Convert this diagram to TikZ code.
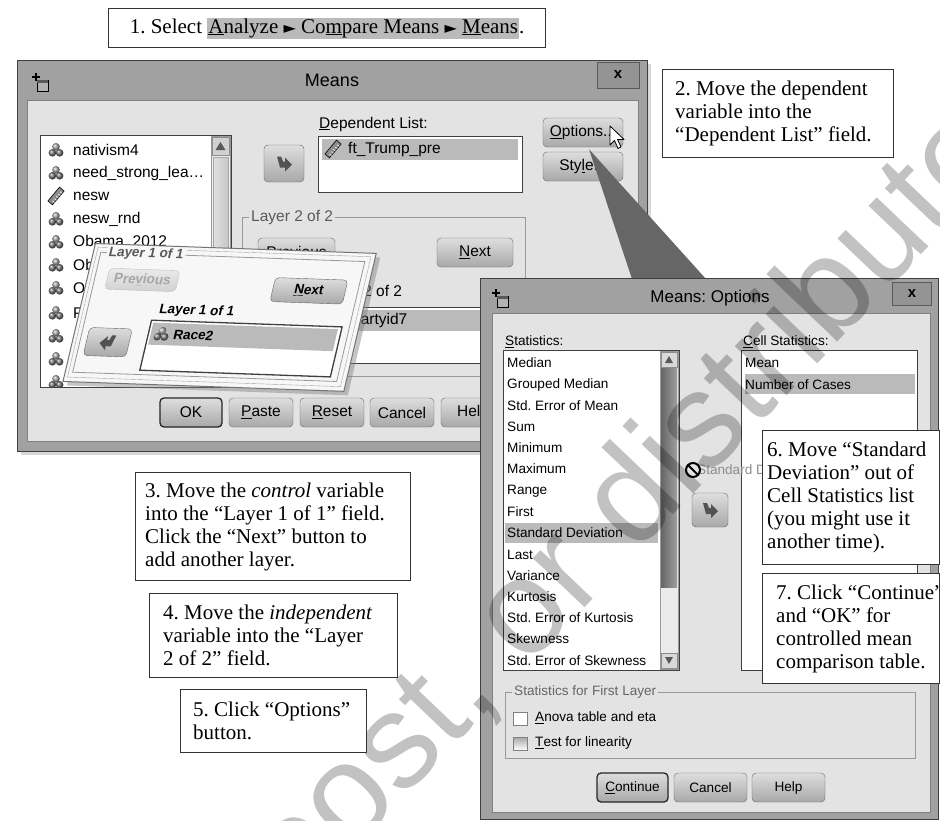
\documentclass[tikz,border=0pt]{standalone}
\usepackage{fontspec}
\setmainfont{Liberation Serif}
\newfontfamily\uifont{Liberation Sans}
\newfontfamily\symfont{DejaVu Sans}
\usetikzlibrary{shapes,arrows,shadows}
\setlength{\fboxsep}{1pt}

\definecolor{framegray}{gray}{0.63}
\definecolor{panelgray}{gray}{0.89}
\definecolor{hlgray}{gray}{0.73}
\definecolor{btnlight}{gray}{0.87}
\definecolor{btndark}{gray}{0.66}
\definecolor{wedgegray}{gray}{0.40}
\definecolor{zoomwhite}{gray}{0.97}

\tikzstyle{notebox} = [rectangle, draw=black!80, line width=1.2pt, fill=white,
    anchor=north west, inner sep=0pt]
\tikzstyle{notetext} = [align=left, inner sep=0pt, font=\fontsize{21}{23}\selectfont]
\tikzstyle{dialog} = [rectangle, draw=black!75, line width=1pt, fill=framegray,
    anchor=north west, inner sep=0pt]
\tikzstyle{listbox} = [rectangle, draw=black!75, line width=1pt, fill=white,
    anchor=north west, inner sep=0pt]
\tikzstyle{btn} = [rectangle, rounded corners=4pt, draw=black!60, top color=btnlight,
    bottom color=btndark, inner sep=0pt, minimum height=29pt]
\tikzstyle{bigui} = [font=\uifont\fontsize{15.5}{15.5}\selectfont]
\tikzstyle{smallui} = [font=\uifont\fontsize{13.6}{13.6}\selectfont]
\tikzstyle{zoomui} = [font=\uifont\bfseries\fontsize{13.5}{13.5}\selectfont]
\tikzstyle{lbl} = [inner sep=0pt, anchor=west]
\tikzstyle{grpline} = [draw=black!40, line width=0.8pt]
\tikzstyle{closebtn} = [rectangle, draw=black!65, fill=black!42, inner sep=0pt,
    font=\uifont\bfseries\fontsize{15}{15}\selectfont]

\newcommand{\tri}{{\symfont\fontsize{16}{16}\selectfont ►}}
\newcommand{\nomicon}[1]{%
  \begin{scope}[shift={#1}]
    \shade[ball color=black!55] (-3.6,2.8) circle (3.8);
    \shade[ball color=black!55] (3.6,2.8) circle (3.8);
    \shade[ball color=black!35] (0,-3.2) circle (3.8);
  \end{scope}}
\newcommand{\scaleicon}[1]{%
  \begin{scope}[shift={#1}, rotate=50]
    \draw[fill=black!45, line width=0.6pt] (-9,-3) rectangle (9,3);
    \foreach \t in {-6,-3,0,3,6} \draw[white, line width=0.6pt] (\t,3) -- (\t,0.5);
  \end{scope}}
\newcommand{\winicon}[1]{%
  \begin{scope}[shift={#1}]
    \draw[fill=black!30] (-3,-2) rectangle (8,9);
    \fill[black!65] (-3,-2) rectangle (8,1);
    \draw[line width=1.3pt] (-8,-5) -- (0,-5) (-4,-9) -- (-4,-1);
  \end{scope}}
\newcommand{\fwdarrow}[1]{%
  \begin{scope}[shift={#1}]
    \fill[black!68] (-7,-7) -- (-3,-7) -- (-1,-2) -- (1,-2) -- (1,-6) -- (8,1) -- (1,8)
      -- (1,4) -- (-4,4) -- cycle;
  \end{scope}}
\newcommand{\backarrow}[1]{%
  \begin{scope}[shift={#1}, xscale=-1]
    \fill[black!68] (-7,-7) -- (-3,-7) -- (-1,-2) -- (1,-2) -- (1,-6) -- (8,1) -- (1,8)
      -- (1,4) -- (-4,4) -- cycle;
  \end{scope}}

\begin{document}
\frenchspacing
\begin{tikzpicture}[x=1pt, y=-1pt]
\useasboundingbox (0,0) rectangle (940,820);
\fill[white] (0,0) rectangle (940,820);

% Means dialog
\node[dialog, minimum width=630pt, minimum height=391pt,
  drop shadow={shadow xshift=3pt, shadow yshift=-3pt, opacity=0.3}] (means) at (17,60) {};
\draw[black!50, fill=panelgray] (27,100) rectangle (638,441);
\winicon{(40,82)}
\node[font=\uifont\fontsize{18}{18}\selectfont] (meanstitle) at (332,80) {Means};
\node[closebtn, minimum width=42pt, minimum height=26pt] (meansx) at (618,75) {x};

% variable list
\node[listbox, minimum width=191pt, minimum height=252pt] (varlist) at (40,135) {};
\begin{scope}
  \clip (41,136) rectangle (210,386);
  \foreach \y in {150,173,219,242,265,288,313,336,359,382} {\nomicon{(56,\y)}}
  \scaleicon{(56,196)}
  \foreach \y/\name in {150/nativism4, 173/{need\_strong\_lea\ldots}, 196/nesw,
      219/nesw\_rnd, 242/Obama\_2012, 265/Ob, 288/O, 313/P}
    \node[bigui, lbl] (var\y) at (73,\y) {\name};
\end{scope}
\draw[black!40, fill=black!6] (211,136) rectangle (230,386);
\draw[black!45, fill=black!18] (212,137) rectangle (229,155);
\fill[black!65] (220.5,142) -- (215.5,150) -- (225.5,150) -- cycle;
\draw[black!35, left color=black!12, right color=black!22] (213,157) rectangle (228,300);

% dependent list
\node[bigui, lbl] (deplbl) at (319,124) {\underline{D}ependent List:};
\node[listbox, minimum width=204pt, minimum height=56pt] (deplist) at (318,136) {};
\fill[hlgray] (322,139) rectangle (518,160);
\scaleicon{(333,149)}
\node[bigui, lbl] (depvar) at (348,149) {ft\_Trump\_pre};
\node[btn, minimum width=40pt, minimum height=37pt] (deparrow) at (284,163.5) {};
\fwdarrow{(284,163.5)}

\node[btn, bigui, minimum width=80pt] (opt) at (583,132.5) {\underline{O}ptions...};
\node[btn, bigui, minimum width=80pt] (style) at (583,166.5) {Sty\underline{l}e...};
\draw[fill=white, line width=0.8pt, line join=round] (610,126) -- (610,145) -- (614.5,140.5)
  -- (618,148.5) -- (621,147) -- (617.5,139.5) -- (624,139.5) -- cycle;

% layer 2 of 2
\draw[grpline] (242,217) rectangle (525,376);
\node[bigui, lbl, fill=panelgray, text=black!65, inner xsep=2pt] (l2grp) at (249,217) {Layer 2 of 2};
\node[btn, bigui, minimum width=77pt] (l2prev) at (296.5,252.5) {Pre\underline{v}ious};
\node[btn, bigui, minimum width=76pt] (l2next) at (475,252.5) {\underline{N}ext};
\node[bigui, lbl] (l2lbl) at (320,292) {Layer 2 of 2};
\node[listbox, minimum width=204pt, minimum height=56pt] (l2list) at (318,307) {};
\fill[hlgray] (321,310) rectangle (519,331);
\nomicon{(336,320)}
\node[bigui, lbl] (l2var) at (352,320) {partyid7};

\node[btn, bigui, minimum width=62pt, draw=black!85, line width=1.3pt] (ok) at (191,412.5) {OK};
\node[btn, bigui, minimum width=64pt] (paste) at (261,412.5) {\underline{P}aste};
\node[btn, bigui, minimum width=64pt] (reset) at (332,412.5) {\underline{R}eset};
\node[btn, bigui, minimum width=64pt] (cancel) at (402,412.5) {Cancel};
\node[btn, bigui, minimum width=64pt] (help) at (473,412.5) {Help};

% Layer 1 of 1 close-up
\begin{scope}[shift={(95,243)}, xslant=0.2, rotate=-2, transform shape]
  \node[rectangle, draw=black!55, fill=zoomwhite, line width=1pt, minimum width=283pt,
    minimum height=138pt, anchor=north west, inner sep=0pt,
    drop shadow={shadow xshift=4pt, shadow yshift=-4pt, opacity=0.45}] (zpanel) at (0,0) {};
  \draw[black!35] (4,4) rectangle (279,134);
  \draw[grpline] (8,9) rectangle (274,129);
  \node[zoomui, lbl, fill=zoomwhite, text=black!65, inner xsep=2pt] (zgrp) at (14,9) {Layer 1 of 1};
  \node[btn, zoomui, minimum width=71pt, minimum height=21pt, draw=black!25,
    top color=black!8, bottom color=black!18, text=black!35] (zprev) at (56,35) {Pre\underline{v}ious};
  \node[btn, zoomui, minimum width=73pt, minimum height=24pt] (znext) at (225,40) {\underline{N}ext};
  \node[zoomui, lbl] (zlbl) at (80,64) {Layer 1 of 1};
  \node[listbox, line width=1.3pt, minimum width=192pt, minimum height=50pt] (zlist) at (74,74) {};
  \fill[hlgray] (77,77) rectangle (263,99);
  \nomicon{(88,88)}
  \node[zoomui, lbl] (zrace) at (100,88) {Race2};
  \node[btn, minimum width=43pt, minimum height=28pt] (zback) at (36,98) {};
  \backarrow{(36,98)}
\end{scope}

% callout wedge
\coordinate (wl) at (632,279);
\coordinate (wr) at (706,279);
\fill[wedgegray] ([xshift=6pt,yshift=-2pt]opt.south) -- (wl) -- (wr) -- cycle;

% Means: Options dialog
\node[dialog, minimum width=458pt, minimum height=541pt] (optdlg) at (480,278) {};
\draw[black!50, fill=panelgray] (492,313) rectangle (930,812);
\winicon{(500,298)}
\node[font=\uifont\fontsize{17}{17}\selectfont] (opttitle) at (710,298) {Means: Options};
\node[closebtn, minimum width=39pt, minimum height=23pt] (optx) at (912,294) {x};

\node[smallui, lbl] (statlbl) at (505,342) {\underline{S}tatistics:};
\node[listbox, minimum width=176pt, minimum height=320pt] (statlist) at (503,350) {};
\fill[hlgray] (505,523) rectangle (658,543);
\foreach \y/\name in {363/Median, 385/Grouped Median, 406/Std. Error of Mean, 427/Sum,
    448/Minimum, 469/Maximum, 491/Range, 512/First, 533/Standard Deviation, 555/Last,
    576/Variance, 597/Kurtosis, 618/Std. Error of Kurtosis, 639/Skewness,
    661/Std. Error of Skewness}
  \node[smallui, lbl] (stat\y) at (507,\y) {\name};
\draw[black!40, fill=black!8] (660,351) rectangle (678,669);
\draw[black!45, fill=black!15] (661,352) rectangle (677,367);
\fill[black!65] (669,356) -- (665,363) -- (673,363) -- cycle;
\fill[left color=black!60, right color=black!38] (661,368) rectangle (677,587);
\draw[black!45, fill=black!15] (661,653) rectangle (677,668);
\fill[black!65] (669,664) -- (665,657) -- (673,657) -- cycle;

\node[smallui, lbl] (celllbl) at (743,342) {\underline{C}ell Statistics:};
\node[listbox, minimum width=176pt, minimum height=320pt] (celllist) at (741,350) {};
\fill[hlgray] (745,374) rectangle (915,394);
\node[smallui, lbl] (cellmean) at (745,363) {Mean};
\node[smallui, lbl] (cellcases) at (745,385) {Number of Cases};

% dragged item
\node[smallui, lbl, text=black!45] (ghost) at (697,470) {Standard Deviation};
\draw[line width=2pt] (693,470) circle (7);
\draw[line width=2pt] (688,465) -- (698,475);
\node[btn, minimum width=36pt, minimum height=34pt] (statarrow) at (710,510) {};
\fwdarrow{(710,510)}

\draw[grpline] (505,692) rectangle (915,758);
\node[smallui, lbl, fill=panelgray, text=black!60, inner xsep=2pt] (firstgrp) at (512,692) {Statistics for First Layer};
\draw[black!50, fill=white] (513,712) rectangle (527,725);
\draw[black!50, top color=black!35, bottom color=white] (513,737) rectangle (527,750);
\node[smallui, lbl] (anova) at (535,718) {\underline{A}nova table and eta};
\node[smallui, lbl] (linear) at (535,743) {\underline{T}est for linearity};

\node[btn, smallui, minimum width=71pt, draw=black!85, line width=1.3pt] (cont) at (632.5,787.5) {\underline{C}ontinue};
\node[btn, smallui, minimum width=73pt] (optcancel) at (710.5,787.5) {Cancel};
\node[btn, smallui, minimum width=73pt] (opthelp) at (788.5,787.5) {Help};

% watermark
\begin{scope}
  \clip (0,0) rectangle (940,820);
  \node[font=\uifont\fontsize{135}{135}\selectfont, text=black, opacity=0.24, rotate=46.4,
    anchor=base west, inner sep=0pt] (wmark) at (299,908) {post, or distribute};
\end{scope}

% Place notes
\node[notebox, minimum width=437pt, minimum height=39pt] (n1) at (108,8) {};
\node[notetext] (t1) at (n1.center)
  {1. Select \colorbox{hlgray}{\underline{A}nalyze \tri{} Co\underline{m}pare Means \tri{} \underline{M}eans}.};
\node[notebox, minimum width=231pt, minimum height=88pt] (n2) at (662,69) {};
\node[notetext, anchor=west] (t2) at ([xshift=13pt]n2.west)
  {2. Move the dependent\\ variable into the\\ “Dependent List” field.};
\node[notebox, minimum width=275pt, minimum height=108pt] (n3) at (135,472) {};
\node[notetext, anchor=west] (t3) at ([xshift=10pt]n3.west)
  {3. Move the \textit{control} variable\\ into the “Layer 1 of 1” field.\\ Click the “Next” button to\\ add another layer.};
\node[notebox, minimum width=248pt, minimum height=84pt] (n4) at (149,593) {};
\node[notetext, anchor=west] (t4) at ([xshift=14pt]n4.west)
  {4. Move the \textit{independent}\\ variable into the “Layer\\ 2 of 2” field.};
\node[notebox, minimum width=186pt, minimum height=63pt] (n5) at (180,689) {};
\node[notetext, anchor=west] (t5) at ([xshift=13pt]n5.west)
  {5. Click “Options”\\ button.};
\node[notebox, minimum width=177pt, minimum height=134pt] (n6) at (762,430) {};
\node[notetext, anchor=west] (t6) at ([xshift=5pt]n6.west)
  {6. Move “Standard\\ Deviation” out of\\ Cell Statistics list\\ (you might use it\\ another time).};
\node[notebox, minimum width=177pt, minimum height=110pt] (n7) at (762,573) {};
\node[notetext, anchor=west] (t7) at ([xshift=14pt]n7.west)
  {7. Click “Continue”\\ and “OK” for\\ controlled mean\\ comparison table.};
\end{tikzpicture}
\end{document}
